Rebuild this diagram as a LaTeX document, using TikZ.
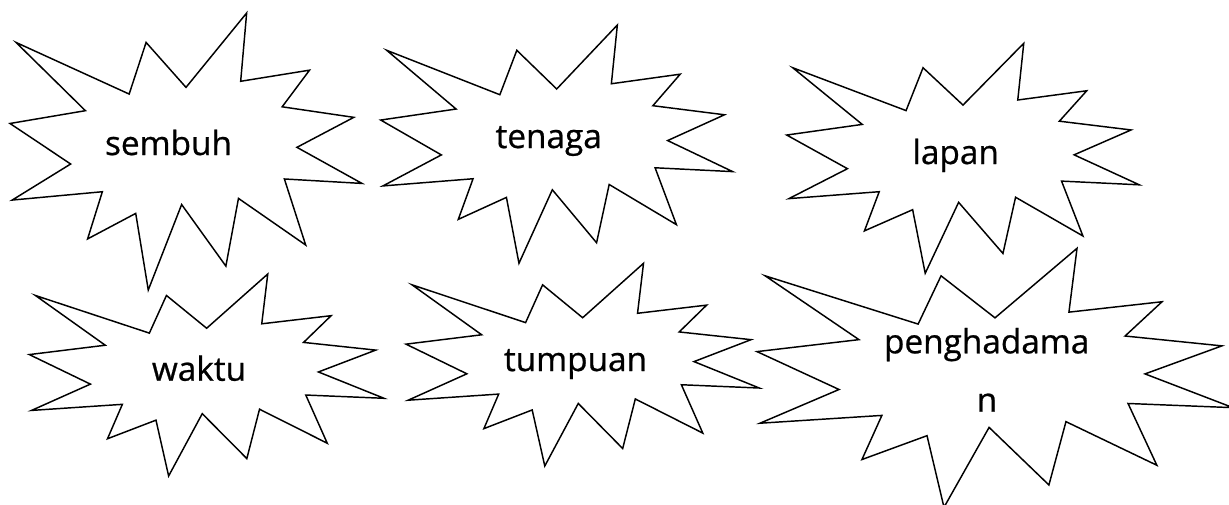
\documentclass[tikz,border=0pt]{standalone}
\usepackage{fontspec}
\setmainfont{Open Sans}
\newfontface\wordface{Open Sans}[FakeBold=0.7]
\newcommand\burstshape[4]{%
  \begin{scope}[shift={(#1,#2)},xscale=#3/216,yscale=#4/216]
    \draw[burstline] (108,58) -- (145.22,0) -- (141.55,53.25) -- (183.80,44.57)
      -- (167.02,73.15) -- (210.97,81.37) -- (176.07,104.75) -- (216,132.90)
      -- (168.37,129.42) -- (181.45,180.95) -- (140.20,144.57) -- (132.47,197.37)
      -- (105.32,149.35) -- (84.85,216) -- (77.15,156.27) -- (47.62,176.17)
      -- (56.67,139.37) -- (1.35,145.87) -- (37.22,117.75) -- (0,86.15)
      -- (46.27,76.17) -- (3.70,22.95) -- (73.12,63.20) -- (83.52,22.95) -- cycle;
  \end{scope}}
\begin{document}
\begin{tikzpicture}[x=0.75pt,y=-0.75pt,
  burstline/.style={draw=black,fill=white,line width=1.1pt,line join=miter},
  word/.style={anchor=base,inner sep=0pt,font=\wordface\fontsize{25}{30}\selectfont,text=black}]
\path[use as bounding box] (0,0) rectangle (1229,504);
\clip (0,0) rectangle (1229,504);
\burstshape{10}{13}{352}{277}
\burstshape{380.7}{25}{352}{238.3}
\burstshape{786.7}{43.3}{352.6}{230}
\burstshape{29.3}{274}{354.7}{202}
\burstshape{406}{263.3}{353.3}{202.7}
\burstshape{757}{248.3}{476}{259}
\node[word] (sembuh) at (168.5,155) {sembuh};
\node[word] (tenaga) at (548.7,148) {tenaga};
\node[word] (lapan) at (955.7,164) {lapan};
\node[word] (waktu) at (199,380.7) {waktu};
\node[word] (tumpuan) at (575.5,371) {tumpuan};
\node[word] (pengA) at (986.7,353.3) {penghadama};
\node[word] (pengB) at (987,411.7) {n};
\end{tikzpicture}
\end{document}
